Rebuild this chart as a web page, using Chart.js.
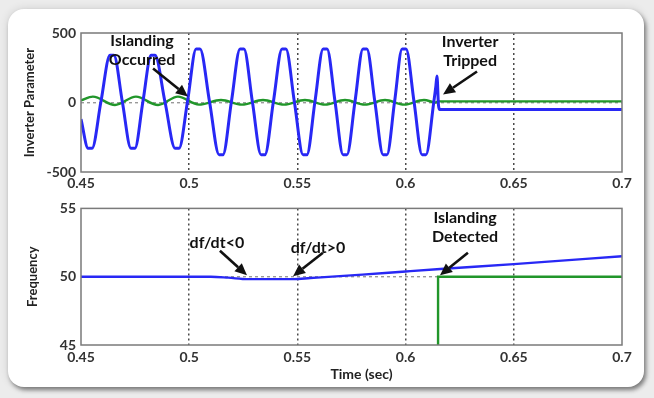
<!DOCTYPE html>
<html>
<head>
<meta charset="utf-8">
<script src="https://cdn.jsdelivr.net/npm/chart.js@4.4.1/dist/chart.umd.min.js"></script>
<style>
    body { margin: 0; width: 654px; height: 398px; overflow: hidden; background: #ececec; position: relative; }
    #card { position: absolute; left: 8px; top: 9px; width: 636px; height: 378px; background: #fff; border-radius: 16px;
            box-shadow: 2px 3px 4px rgba(0,0,0,0.45), 0 0 10px rgba(0,0,0,0.12); }
    canvas { position: absolute; left: 0; }
    #ChartInverter { top: 0; }
    #ChartFrequency { top: 195px; }
</style>
</head>
<body>
<div id="card"></div>
<canvas id="ChartInverter" width="654" height="200"></canvas>
<canvas id="ChartFrequency" width="654" height="203"></canvas>
<script>
// x axis (time, sec)
var timeTicks = [0.45, 0.5, 0.55, 0.6, 0.65, 0.7];
var timeTickLabels = ['0.45', '0.5', '0.55', '0.6', '0.65', '0.7'];
var invTicks = [-500, 0, 500];
var freqTicks = [45, 50, 55];

// top plot - inverter output (blue)
var invTime = [0.4500, 0.4533, 0.4551, 0.4592, 0.4634, 0.4652, 0.4691, 0.4731, 0.4749, 0.4786, 0.4824, 0.4842,
    0.4888, 0.4935, 0.4953, 0.4992, 0.5032, 0.5050, 0.5094, 0.5138, 0.5156, 0.5195, 0.5235, 0.5253, 0.5292,
    0.5332, 0.5350, 0.5389, 0.5429, 0.5447, 0.5486, 0.5526, 0.5544, 0.5581, 0.5619, 0.5637, 0.5674, 0.5711,
    0.5729, 0.5766, 0.5803, 0.5821, 0.5858, 0.5896, 0.5914, 0.5949, 0.5984, 0.6002, 0.6039, 0.6076, 0.6094,
    0.6130, 0.6140, 0.6145, 0.6152, 0.6158, 0.7000];
var invBlue = [-120, -330, -330, 5, 340, 340, 5, -330, -330, 5, 340, 340,
    5, -330, -330, 5, 385, 385, 5, -375, -375, 5, 385, 385, 5,
    -375, -375, 5, 385, 385, 5, -375, -375, 5, 385, 385, 5, -375,
    -375, 5, 385, 385, 5, -375, -375, 5, 385, 385, 5, -375, -375,
    0, 120, 190, -20, -50, -50];

// top plot - second parameter (green)
var gridTime = [0.4500, 0.4555, 0.4657, 0.4754, 0.4856, 0.4948, 0.5045, 0.5147, 0.5244, 0.5341, 0.5438,
    0.5535, 0.5628, 0.5720, 0.5812, 0.5905, 0.5993, 0.6085, 0.6140, 0.6150, 0.7000];
var gridGreen = [15, 42, -18, 42, -18, 42, -15, 18, -15, 18, -15,
    18, -15, 18, -15, 18, -15, 18, 0, 8, 8];

// bottom plot - frequency (blue) and detection signal (green)
var freqTime = [0.45, 0.51, 0.518, 0.527, 0.548, 0.556, 0.58, 0.60, 0.616, 0.65, 0.70];
var freqBlue = [50.0, 50.0, 49.93, 49.82, 49.82, 49.9, 50.15, 50.38, 50.56, 50.92, 51.5];
var detTime = [0.45, 0.615, 0.615, 0.70];
var detGreen = [0, 0, 50, 50];

var blue = '#2828f5';
var green = '#21962a';
var font = 'Lato, "Liberation Sans", sans-serif';

function pts(xs, ys) {
    return xs.map(function (x, i) { return { x: x, y: ys[i] }; });
}

function arrow(ctx, x1, y1, x2, y2) {
    var a = Math.atan2(y2 - y1, x2 - x1), L = 12, W = 5.5;
    var bx = x2 - L * Math.cos(a), by = y2 - L * Math.sin(a);
    ctx.beginPath();
    ctx.moveTo(x1, y1);
    ctx.lineTo(bx, by);
    ctx.stroke();
    ctx.beginPath();
    ctx.moveTo(x2, y2);
    ctx.lineTo(bx + W * Math.sin(a), by - W * Math.cos(a));
    ctx.lineTo(bx - W * Math.sin(a), by + W * Math.cos(a));
    ctx.closePath();
    ctx.fill();
}

// frame, axis titles and the annotations
const decor = {
    id: 'decor',
    afterDraw(chart, args, opts) {
        const ctx = chart.ctx, a = chart.chartArea, x = chart.scales.x, y = chart.scales.y;
        ctx.save();
        ctx.strokeStyle = '#7a7a7a';
        ctx.lineWidth = 1.5;
        ctx.strokeRect(a.left, a.top, a.width, a.height);

        ctx.fillStyle = '#222';
        ctx.textAlign = 'center';
        ctx.textBaseline = 'middle';
        ctx.font = 'bold 13px ' + font;
        ctx.save();
        ctx.translate(opts.yTitleX, (a.top + a.bottom) / 2);
        ctx.rotate(-Math.PI / 2);
        ctx.fillText(opts.yTitle, 0, 0);
        ctx.restore();
        if (opts.xTitle) {
            ctx.font = 'bold 14px ' + font;
            ctx.fillText(opts.xTitle, (a.left + a.right) / 2 + 10, opts.xTitleY);
        }

        ctx.fillStyle = '#111';
        ctx.strokeStyle = '#111';
        ctx.lineWidth = 2.6;
        ctx.font = 'bold 16px ' + font;
        opts.notes.forEach(function (n) {
            n.lines.forEach(function (s, i) {
                ctx.fillText(s, x.getPixelForValue(n.x), y.getPixelForValue(n.y) + i * 19);
            });
            arrow(ctx, x.getPixelForValue(n.from[0]), y.getPixelForValue(n.from[1]),
                x.getPixelForValue(n.to[0]), y.getPixelForValue(n.to[1]));
        });
        ctx.restore();
    }
};

function timeAxis(height, pad) {
    return {
        type: 'linear', min: 0.45, max: 0.7,
        afterBuildTicks: function (axis) { axis.ticks = timeTicks.map(function (v) { return { value: v }; }); },
        afterFit: function (axis) { axis.height = height; },
        ticks: {
            padding: pad, maxRotation: 0, color: '#333',
            font: { family: font, size: 14, weight: 'bold' },
            callback: function (v, i) { return timeTickLabels[i]; }
        },
        grid: {
            drawTicks: false, lineWidth: 1.5,
            color: function (c) { return (c.tick && c.tick.value > 0.46 && c.tick.value < 0.69) ? '#4a4a4a' : 'transparent'; }
        },
        border: { display: false, dash: [2, 3] }
    };
}

function valueAxis(min, max, ticks, mid) {
    return {
        type: 'linear', min: min, max: max,
        afterBuildTicks: function (axis) { axis.ticks = ticks.map(function (v) { return { value: v }; }); },
        afterFit: function (axis) { axis.width = 81; },
        ticks: { padding: 5, color: '#333', font: { family: font, size: 14, weight: 'bold' } },
        grid: {
            drawTicks: false, lineWidth: 1.4,
            color: function (c) { return (c.tick && c.tick.value === mid) ? '#999' : 'transparent'; }
        },
        border: { display: false, dash: [3, 3] }
    };
}

new Chart(document.getElementById('ChartInverter'), {
    type: 'line',
    data: {
        datasets: [
            {
                label: 'Inverter',
                data: pts(invTime, invBlue),
                borderColor: blue,
                borderWidth: 3,
                pointRadius: 0,
                cubicInterpolationMode: 'monotone',
            },
            {
                label: 'Grid',
                data: pts(gridTime, gridGreen),
                borderColor: green,
                borderWidth: 2.4,
                pointRadius: 0,
                cubicInterpolationMode: 'monotone',
            }
        ]
    },
    options: {
        responsive: false,
        animation: false,
        layout: { padding: { left: 0, right: 32, top: 33, bottom: 0 } },
        scales: {
            x: timeAxis(28, 3),
            y: valueAxis(-500, 500, invTicks, 0)
        },
        plugins: {
            legend: { display: false },
            tooltip: { enabled: false },
            decor: {
                yTitle: 'Inverter Parameter',
                yTitleX: 30,
                notes: [
                    { lines: ['Islanding', 'Occurred'], x: 0.4782, y: 440, from: [0.4833, 245], to: [0.4994, 43] },
                    { lines: ['Inverter', 'Tripped'], x: 0.6298, y: 439, from: [0.6330, 223], to: [0.6173, 58] }
                ]
            }
        }
    },
    plugins: [decor]
});

new Chart(document.getElementById('ChartFrequency'), {
    type: 'line',
    data: {
        datasets: [
            {
                label: 'Frequency',
                data: pts(freqTime, freqBlue),
                borderColor: blue,
                borderWidth: 2.4,
                pointRadius: 0,
                cubicInterpolationMode: 'monotone',
            },
            {
                label: 'Detection',
                data: pts(detTime, detGreen),
                borderColor: green,
                borderWidth: 2.4,
                pointRadius: 0,
                tension: 0,
            }
        ]
    },
    options: {
        responsive: false,
        animation: false,
        layout: { padding: { left: 0, right: 32, top: 11, bottom: 0 } },
        scales: {
            x: timeAxis(53, 4),
            y: valueAxis(45, 55, freqTicks, 50)
        },
        plugins: {
            legend: { display: false },
            tooltip: { enabled: false },
            decor: {
                yTitle: 'Frequency',
                yTitleX: 33,
                xTitle: 'Time (sec)',
                xTitleY: 179,
                notes: [
                    { lines: ['df/dt<0'], x: 0.5128, y: 52.48, from: [0.5142, 51.9], to: [0.5267, 50.1] },
                    { lines: ['df/dt>0'], x: 0.5595, y: 52.1, from: [0.5618, 51.76], to: [0.5480, 50.04] },
                    { lines: ['Islanding', 'Detected'], x: 0.6275, y: 54.28, from: [0.6288, 51.76], to: [0.6159, 50.1] }
                ]
            }
        }
    },
    plugins: [decor]
});
</script>
</body>
</html>
